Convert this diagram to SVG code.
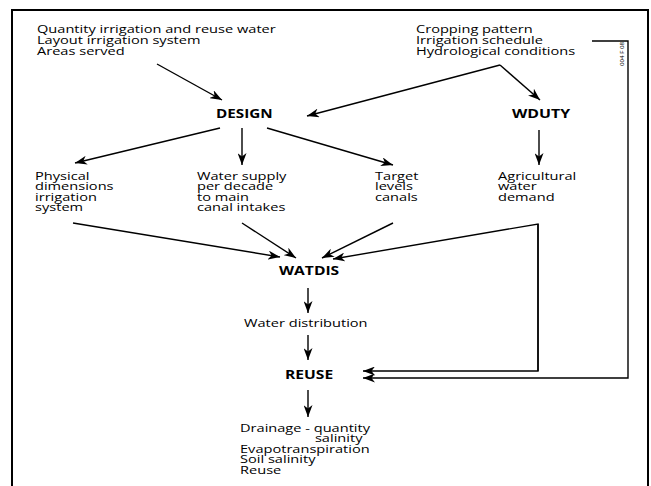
<svg xmlns="http://www.w3.org/2000/svg" width="651" height="486" viewBox="0 0 651 486">
<style>
text{font-family:"Open Sans","Noto Sans","Liberation Sans",sans-serif;font-size:11.5px;fill:#000}
.b{font-weight:bold;font-size:12.5px}
.c{fill:none;stroke:#000;stroke-width:1.4}
.f{fill:none;stroke:#000;stroke-width:2}
</style>
<defs>
<marker id="ah" markerWidth="13" markerHeight="9" refX="12" refY="4.5" orient="auto" markerUnits="userSpaceOnUse">
<path d="M0,0 L12,4.5 L0,9 L3.5,4.5 z" fill="#000"/>
</marker>
</defs>
<rect width="651" height="486" fill="#fff"/>
<path class="f" d="M12,487 V10 H648 V487"/>
<g id="inputs-design" transform="translate(37,0) scale(1.27,1)">
<text y="33"><tspan x="0">Quantity irrigation and reuse water</tspan><tspan x="0" dy="11">Layout irrigation system</tspan><tspan x="0" dy="11">Areas served</tspan></text>
</g>
<g id="inputs-wduty" transform="translate(416,0) scale(1.27,1)">
<text y="33"><tspan x="0">Cropping pattern</tspan><tspan x="0" dy="11">Irrigation schedule</tspan><tspan x="0" dy="11">Hydrological conditions</tspan></text>
</g>
<g id="code">
<text transform="translate(624,66) rotate(-90)" style="font-size:6px" textLength="24" lengthAdjust="spacingAndGlyphs">004 F 08</text>
</g>
<g id="design" transform="translate(216,0) scale(1.22,1)"><text class="b" x="0" y="118">DESIGN</text></g>
<g id="wduty" transform="translate(512,0) scale(1.27,1)"><text class="b" x="0" y="118">WDUTY</text></g>
<g id="physical" transform="translate(35,0) scale(1.27,1)">
<text y="180"><tspan x="0">Physical</tspan><tspan x="0" dy="10.5">dimensions</tspan><tspan x="0" dy="10.5">irrigation</tspan><tspan x="0" dy="10.5">system</tspan></text>
</g>
<g id="supply" transform="translate(197,0) scale(1.27,1)">
<text y="180"><tspan x="0">Water supply</tspan><tspan x="0" dy="10.5">per decade</tspan><tspan x="0" dy="10.5">to main</tspan><tspan x="0" dy="10.5">canal intakes</tspan></text>
</g>
<g id="target" transform="translate(375,0) scale(1.27,1)">
<text y="180"><tspan x="0">Target</tspan><tspan x="0" dy="10.5">levels</tspan><tspan x="0" dy="10.5">canals</tspan></text>
</g>
<g id="agri" transform="translate(498,0) scale(1.27,1)">
<text y="180"><tspan x="0">Agricultural</tspan><tspan x="0" dy="10.5">water</tspan><tspan x="0" dy="10.5">demand</tspan></text>
</g>
<g id="watdis" transform="translate(279,0) scale(1.25,1)"><text class="b" x="0" y="275">WATDIS</text></g>
<g id="distribution" transform="translate(244,0) scale(1.27,1)"><text x="0" y="327">Water distribution</text></g>
<g id="reuse" transform="translate(285,0) scale(1.25,1)"><text class="b" x="0" y="379">REUSE</text></g>
<g id="outputs" transform="translate(240,0) scale(1.27,1)">
<text y="432"><tspan x="0">Drainage - quantity</tspan><tspan x="59" dy="10.5">salinity</tspan><tspan x="0" dy="10.5">Evapotranspiration</tspan><tspan x="0" dy="10.5">Soil salinity</tspan><tspan x="0" dy="10.5">Reuse</tspan></text>
</g>
<g id="connectors">
<line class="c" x1="157" y1="64" x2="222" y2="100" marker-end="url(#ah)"/>
<line class="c" x1="500" y1="65" x2="307" y2="116" marker-end="url(#ah)"/>
<line class="c" x1="500" y1="65" x2="540" y2="100" marker-end="url(#ah)"/>
<line class="c" x1="220" y1="128" x2="75" y2="163" marker-end="url(#ah)"/>
<line class="c" x1="242" y1="128" x2="242" y2="165" marker-end="url(#ah)"/>
<line class="c" x1="267" y1="128" x2="393" y2="165" marker-end="url(#ah)"/>
<line class="c" x1="539" y1="130" x2="539" y2="165" marker-end="url(#ah)"/>
<line class="c" x1="73" y1="223" x2="280" y2="257" marker-end="url(#ah)"/>
<line class="c" x1="242" y1="223" x2="296" y2="258" marker-end="url(#ah)"/>
<line class="c" x1="393" y1="223" x2="322" y2="258" marker-end="url(#ah)"/>
<polyline class="c" points="538,371 538,224 333,259" marker-end="url(#ah)"/>
<line class="c" x1="308" y1="288" x2="308" y2="313" marker-end="url(#ah)"/>
<line class="c" x1="308" y1="335" x2="308" y2="360" marker-end="url(#ah)"/>
<line class="c" x1="308" y1="390" x2="308" y2="417" marker-end="url(#ah)"/>
<polyline class="c" points="538,224 538,371 363,371" marker-end="url(#ah)"/>
<polyline class="c" points="592,41 628,41 628,378 363,378" marker-end="url(#ah)"/>
</g>
</svg>
